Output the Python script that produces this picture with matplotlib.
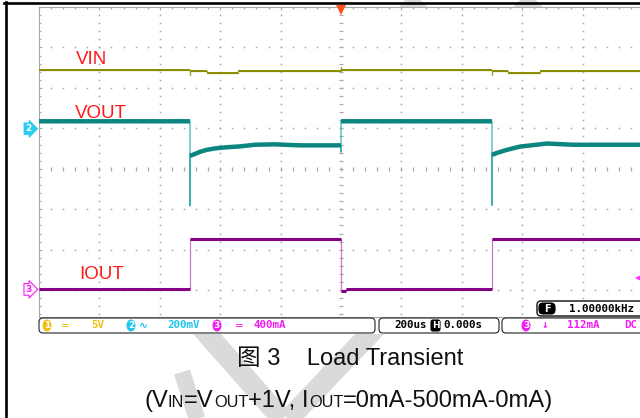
import numpy as np
import matplotlib.pyplot as plt
from matplotlib import transforms
from matplotlib.patches import FancyBboxPatch, Ellipse, Rectangle
from matplotlib.offsetbox import TextArea, HPacker, AnnotationBbox

plt.rcParams['font.family'] = ['Liberation Sans', 'Noto Sans CJK SC', 'DejaVu Sans']

# scope settings
t_div = 200          # us/div
vin_scale = 5        # V/div
vout_scale = 200     # mV/div
iout_scale = 400     # mA/div
vin_pos = 0.0        # channel ground marker, in div
vout_pos = 0.99
iout_pos = -2.98
trig_ma = 112
period_us = 1000

# CH1 VIN (V)
vin_t = [-1000, -500, -500, -500, -444, -444, -341, -341, 0, 0, 0,
         500, 500, 500, 553, 553, 659, 659, 1000]
vin_v = [12.25, 12.25, 11.63, 12.07, 12.07, 11.9, 11.9, 12.07, 12.07, 12.56, 12.25,
         12.25, 11.63, 12.07, 12.07, 11.9, 11.9, 12.07, 12.07]

# CH2 VOUT, AC coupled (mV)
vout_t = [-1000, -500, -500, -500, -483, -467, -444, -417, -384, -334, -285, -219, -136,
          0, 0, 0, 500, 500, 500, 517, 550, 593, 682, 768, 1000]
vout_mv = [37, 37, -381, -134, -124, -114, -104, -97, -92, -87, -79, -77, -82,
           -82, -115, 37, 37, -378, -129, -119, -104, -88, -73, -79, -79]

# CH3 IOUT (mA)
iout_t = [-1000, -500, -500, 0, 0, 17, 17, 500, 500, 1000]
iout_ma = [0, 0, 500, 500, -20, -20, 0, 0, 500, 500]

W, H = 640, 418
fig = plt.figure(figsize=(W / 100, H / 100), dpi=100)

# page background: watermark, screenshot area, border
bg = fig.add_axes([0, 0, 1, 1])
bg.set_xlim(0, W)
bg.set_ylim(H, 0)
bg.axis('off')
wm = '#dadada'
for xa, ya, xb, yb, lw in [(177, 300, 290, 428, 15), (402, 300, 280, 428, 15),
                           (182, 372, 200, 428, 12), (398, -10, 426, 20, 14),
                           (512, -10, 542, 20, 14)]:
    bg.plot([xa, xb], [ya, yb], color=wm, lw=lw, solid_capstyle='butt')
bg.add_patch(Rectangle((7, 7), 640, 327, fc='white', ec='none', zorder=3))
bg.plot([5.5, 5.5], [2, H], color='black', lw=1.9, zorder=4)
bg.plot([4, W], [3, 3], color='black', lw=1.9, zorder=4)

# scope screen
sx0, sx1, sy0, sy1 = 39, 643, 7, 317
ax = fig.add_axes([sx0 / W, 1 - sy1 / H, (sx1 - sx0) / W, (sy1 - sy0) / H])
ax.set_xlim(-5 * t_div, 5 * t_div)
ax.set_ylim(-3.663, 4.0)
ax.patch.set_alpha(0)
gc = '#a8a8a8'
for s in ['top', 'left', 'bottom']:
    ax.spines[s].set_color(gc)
    ax.spines[s].set_linewidth(0.8)
ax.spines['right'].set_visible(False)
ax.set_xticks(np.arange(-5, 6) * t_div)
ax.set_xticks(np.arange(-25, 26) * t_div / 5, minor=True)
ax.set_yticks(np.arange(-3, 5))
ax.set_yticks(np.arange(-18, 21) / 5, minor=True)
ax.tick_params(which='both', direction='in', top=True, bottom=False, left=True, right=False,
               labelbottom=False, labelleft=False, color=gc, width=0.8)
ax.tick_params(which='major', length=2.5)
ax.tick_params(which='minor', length=1.6)

fine_t = np.arange(-25, 26) * t_div / 5
fine_d = np.arange(-18, 21) / 5
for k in range(-4, 5):
    if k == 0:
        continue
    ax.plot(np.full(len(fine_d), k * t_div), fine_d, ls='none', marker='s', ms=1.1, mew=0, color=gc)
for k in range(-3, 4):
    if k == 0:
        continue
    ax.plot(fine_t, np.full(len(fine_t), k), ls='none', marker='s', ms=1.1, mew=0, color=gc)
ax.plot(np.zeros(len(fine_d)), fine_d, ls='none', marker='_', ms=3.5, mew=0.9, color=gc)
ax.plot(fine_t, np.zeros(len(fine_t)), ls='none', marker='|', ms=3.5, mew=0.9, color=gc)


def draw(t, y, dark, light, lw):
    t = np.asarray(t, float)
    y = np.asarray(y, float)
    ax.plot(t, y, color=light, lw=0.9, zorder=3)
    tt, yy = [t[0]], [y[0]]
    for i in range(1, len(t)):
        if t[i] == t[i - 1]:
            tt.append(np.nan)
            yy.append(np.nan)
        tt.append(t[i])
        yy.append(y[i])
    ax.plot(tt, yy, color=dark, lw=lw, solid_capstyle='butt', zorder=4)


draw(vin_t, vin_pos + np.array(vin_v) / vin_scale, '#8c8c00', '#a5a530', 1.4)
draw(vout_t, vout_pos + np.array(vout_mv) / vout_scale, '#0b8580', '#3cb4b0', 3.2)
draw(iout_t, iout_pos + np.array(iout_ma) / iout_scale, '#860086', '#c77ac7', 2.2)

ax.plot([0], [3.93], marker='v', ms=7.5, mew=0, color='#ff5018', clip_on=False, zorder=6)
ax.plot([5 * t_div - 15], [iout_pos + trig_ma / iout_scale], marker='<', ms=4.5, mew=0,
        color='#ff30ff', clip_on=False, zorder=6)

bl = transforms.blended_transform_factory(ax.transAxes, ax.transData)
ax.text(-0.0175, vout_pos, '2', transform=bl, ha='center', va='center', fontsize=6.5,
        fontweight='bold', color='white', family='DejaVu Sans', clip_on=False,
        bbox=dict(boxstyle='rarrow,pad=0.15', fc='#2ccdf0', ec='#2ccdf0', lw=0.5))
ax.text(-0.0175, iout_pos, '3', transform=bl, ha='center', va='center', fontsize=6.5,
        fontweight='bold', color='#f020f0', family='DejaVu Sans', clip_on=False,
        bbox=dict(boxstyle='rarrow,pad=0.15', fc='#fff0ff', ec='#f020f0', lw=0.8))

# overlay: labels, status bar, caption
ov = fig.add_axes([0, 0, 1, 1])
ov.set_xlim(0, W)
ov.set_ylim(H, 0)
ov.axis('off')

red = '#ff1a1a'
ov.text(76, 64, 'VIN', color=red, fontsize=13.5, va='baseline')
ov.text(75, 118, 'VOUT', color=red, fontsize=13.5, va='baseline')
ov.text(79, 279, 'IOUT', color=red, fontsize=13.5, va='baseline')


def box(x, y, w, h, r=4, fc='white', ec='#222222', lw=0.8):
    ov.add_patch(FancyBboxPatch((x, y), w, h, boxstyle=f'round,pad=0,rounding_size={r}',
                                fc=fc, ec=ec, lw=lw))


mono_fam = ['DejaVu Sans Mono', 'DejaVu Sans', 'Noto Sans', 'Noto Sans CJK SC']
mono = dict(family=mono_fam, fontweight='bold', fontsize=7.8, va='center')
yel, cyn, mag = '#f2bf16', '#1fc6ef', '#f01cf0'


def badge(x, y, s, c):
    ov.add_patch(Ellipse((x, y), 9, 12, fc=c, ec='none'))
    ov.text(x, y + 0.5, s, color='white', ha='center', va='center', family='DejaVu Sans',
            fontweight='bold', fontsize=6.5)


box(39, 318, 336, 15)
box(379, 318, 120, 15)
box(502, 318, 160, 15)
box(537, 301, 120, 15, lw=1.1)

yb = 325.5
badge(47, yb, '1', yel)
ov.text(61, yb, '═', color=yel, **mono)
ov.text(91, yb, f'{vin_scale}V', color=yel, **mono)
badge(131, yb, '2', cyn)
ov.text(139, yb, '∿', color=cyn, **mono)
ov.text(167, yb, f'{vout_scale}mV', color=cyn, **mono)
badge(217, yb, '3', mag)
ov.text(235, yb, '═', color=mag, **mono)
ov.text(253, yb, f'{iout_scale}mA', color=mag, **mono)

ov.text(394, yb, f'{t_div}us', color='black', **mono)
box(431, 320, 9, 11, r=2, fc='black', ec='black')
ov.text(435.5, yb + 0.5, 'H', color='white', ha='center', va='center', family='DejaVu Sans',
        fontweight='bold', fontsize=6.5)
ov.text(443, yb, '0.000s', color='black', **mono)

badge(526, yb, '3', mag)
ov.text(542, yb, '↓', color=mag, **mono)
ov.text(567, yb, f'{trig_ma}mA', color=mag, **mono)
ov.text(624, yb, 'DC', color=mag, **mono)

box(539, 303, 16, 11, r=4, fc='black', ec='black')
ov.text(547, 308.8, 'F', color='white', ha='center', va='center', family='DejaVu Sans',
        fontweight='bold', fontsize=7)
ov.text(569, 308.5, f'{1000 / period_us:.5f}kHz', color='black', **mono)

ov.text(237, 365, '图 3    Load Transient', fontsize=17, va='baseline', ha='left', color='#111111')

big = dict(fontsize=17.1, color='#111111', family='Liberation Sans')
small = dict(fontsize=11.8, color='#111111', family='Liberation Sans')
parts = [('(V', big), ('IN', small), ('=V', big), ('OUT', small), ('+1V, I', big),
         ('OUT', small), ('=0mA-500mA-0mA)', big)]
pack = HPacker(children=[TextArea(s, textprops=p) for s, p in parts], align='baseline', pad=0, sep=0)
ov.add_artist(AnnotationBbox(pack, (144, 401), xycoords='data', box_alignment=(0, 0.5),
                             frameon=False, pad=0))

fig.savefig('out.png', dpi=100)
